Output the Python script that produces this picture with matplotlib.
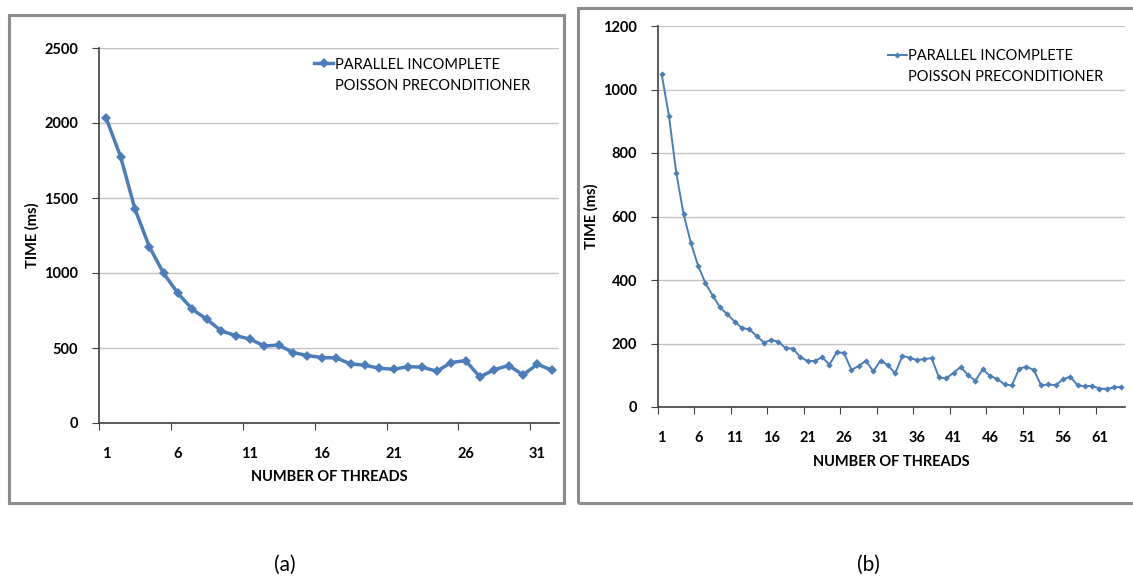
import numpy as np
import matplotlib
matplotlib.use('Agg')
import matplotlib.pyplot as plt
from matplotlib.lines import Line2D
from matplotlib.patches import Rectangle

# Time (ms) per number of threads
time_a = [2032, 1776, 1427, 1175, 997, 864, 757, 692, 614, 583,
          559, 514, 519, 470, 450, 436, 434, 394, 385, 365,
          358, 376, 372, 345, 403, 416, 307, 356, 383, 321,
          392, 352]
time_b = [1049, 917, 738, 608, 517, 445, 390, 351, 314, 292,
          269, 249, 245, 224, 203, 211, 206, 185, 184, 157,
          145, 145, 157, 133, 173, 170, 117, 129, 146, 112,
          146, 132, 106, 161, 155, 148, 151, 154, 93, 90,
          108, 126, 100, 83, 119, 98, 88, 71, 68, 121,
          127, 117, 68, 71, 69, 87, 96, 68, 65, 67,
          58, 57, 62, 63]
threads_a = np.arange(1, len(time_a) + 1)
threads_b = np.arange(1, len(time_b) + 1)

yticks_a = [0, 500, 1000, 1500, 2000, 2500]
yticks_b = [0, 200, 400, 600, 800, 1000, 1200]

legend_lines = ['PARALLEL INCOMPLETE', 'POISSON PRECONDITIONER']
blue = '#4a7ebb'

plt.rcParams['font.family'] = ['Lato', 'DejaVu Sans']

fig = plt.figure(figsize=(11.33, 5.8), dpi=100)

# gray frames around each chart
for x0, w, h in [(9, 555, 488), (578, 560, 495)]:
    fig.patches.append(Rectangle((x0 / 1133, 1 - 503 / 580), w / 1133, h / 580,
                                 transform=fig.transFigure, fill=False,
                                 edgecolor='#8c8c8c', linewidth=2.2))


def setup(ax, threads, times, yticks, lw, ms, xlabel_y, ylabel_x, leg_xy):
    n = len(threads)
    line, = ax.plot(threads, times, '-', color=blue, lw=lw, marker='D',
                    markersize=ms, markeredgewidth=0)
    ax.set_xlim(0.5, n + 0.5)
    ax.set_ylim(yticks[0], yticks[-1])
    ax.set_yticks(yticks)
    ax.grid(True, axis='y', color='#c4c4c4', lw=1)
    ax.set_axisbelow(True)

    # Excel-like category axis: ticks between categories, labels on them
    ax.set_xticks(np.arange(0.5, n + 0.6, 5))
    ax.set_xticklabels([])
    ax.set_xticks(np.arange(1, n + 1, 5), minor=True)
    ax.set_xticklabels([str(v) for v in range(1, n + 1, 5)], minor=True,
                       fontsize=10.5, fontweight='bold')
    ax.tick_params(axis='x', which='major', length=5, direction='out', color='#404040')
    ax.tick_params(axis='x', which='minor', length=0, pad=17)
    ax.tick_params(axis='y', length=5, direction='out', color='#404040', pad=10,
                   labelsize=10.5)
    for t in ax.get_yticklabels():
        t.set_fontweight('bold')

    for s in ['top', 'right']:
        ax.spines[s].set_visible(False)
    for s in ['left', 'bottom']:
        ax.spines[s].set_color('#404040')
        ax.spines[s].set_linewidth(1.2)

    ax.set_xlabel('NUMBER OF THREADS', fontsize=10.5, fontweight='bold')
    ax.xaxis.label.set_va('center')
    ax.xaxis.set_label_coords(0.5, xlabel_y)
    ax.set_ylabel('TIME (ms)', fontsize=10.5, fontweight='bold')
    ax.yaxis.label.set_va('center')
    ax.yaxis.set_label_coords(ylabel_x, 0.5)

    blank = Line2D([], [], color='none')
    ax.legend([line, blank], legend_lines, loc='upper left',
              bbox_to_anchor=leg_xy, frameon=False, fontsize=10.5,
              handlelength=1.3, handletextpad=0.1, labelspacing=0.5,
              borderaxespad=0)
    return ax


ax1 = fig.add_axes([99 / 1133, 1 - 423 / 580, 460 / 1133, 375 / 580])
setup(ax1, threads_a, time_a, yticks_a, 2.5, 5.5, -0.144, -0.146, (0.455, 0.99))

ax2 = fig.add_axes([658 / 1133, 1 - 407 / 580, 467 / 1133, 381 / 580])
setup(ax2, threads_b, time_b, yticks_b, 1.4, 3.2, -0.144, -0.143, (0.48, 0.955))

fig.text(285 / 1133, 1 - 565 / 580, '(a)', fontsize=15, ha='center', va='center')
fig.text(868 / 1133, 1 - 565 / 580, '(b)', fontsize=15, ha='center', va='center')

fig.savefig('out.png', dpi=100)
